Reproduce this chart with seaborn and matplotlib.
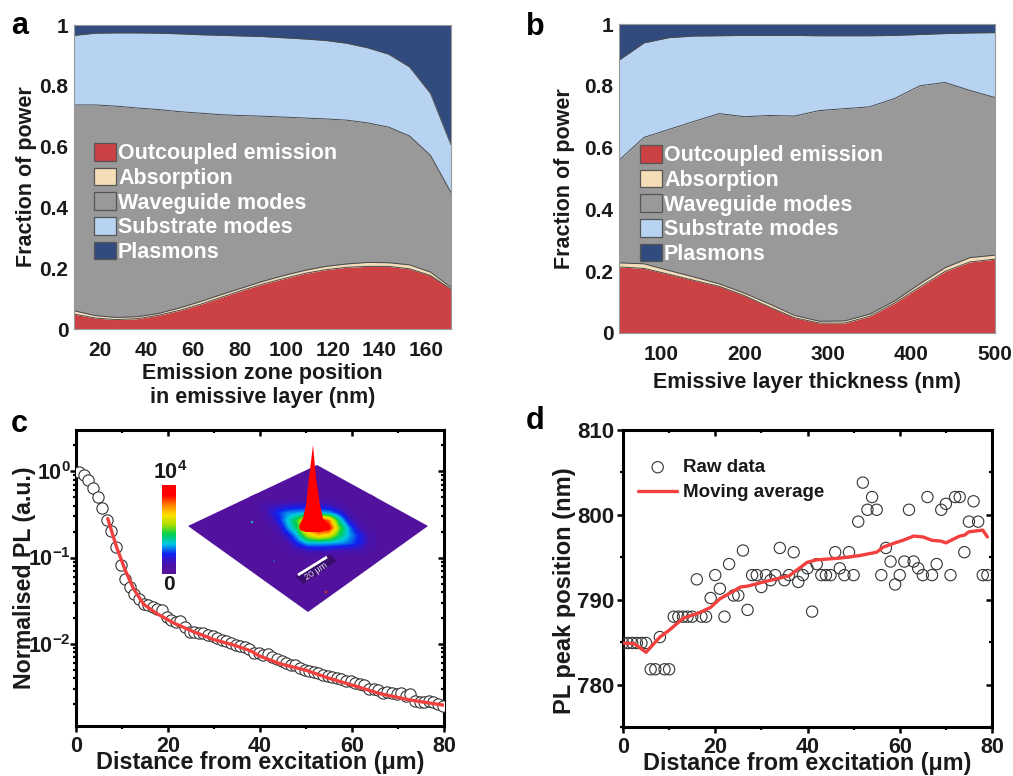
import numpy as np
import matplotlib
matplotlib.use("Agg")
import matplotlib.pyplot as plt
from matplotlib.colors import LinearSegmentedColormap
from matplotlib.patches import Patch, Polygon
from matplotlib.ticker import FixedLocator, NullFormatter
import seaborn as sns

W, H = 1013, 776

# panel a: top boundary of each stacked band
a_x = [8.8, 18, 27, 36, 45, 54, 63, 72, 81, 90, 99, 108, 117, 126, 135, 144, 153, 162, 170.8]
a_out = [.049, .036, .031, .034, .045, .061, .081, .104, .127, .148, .166, .183, .195, .203, .206, .206, .198, .176, .131]
a_abs = [.060, .044, .038, .0405, .051, .069, .090, .113, .135, .157, .176, .193, .206, .214, .219, .218, .211, .187, .137]
a_wg = [.737, .737, .733, .727, .722, .715, .710, .705, .702, .700, .697, .694, .691, .687, .678, .664, .635, .571, .449]
a_sub = [.966, .973, .974, .974, .973, .971, .968, .966, .964, .962, .958, .954, .949, .940, .925, .904, .862, .775, .606]

# panel b
b_x = [50, 80, 110, 140, 170, 200, 230, 260, 290, 320, 350, 380, 410, 440, 470, 500]
b_out = [.214, .209, .190, .170, .151, .121, .084, .0495, .032, .032, .054, .097, .149, .199, .230, .239]
b_abs = [.227, .224, .202, .181, .159, .129, .094, .057, .038, .039, .061, .104, .159, .211, .244, .252]
b_wg = [.559, .633, .659, .685, .710, .700, .704, .702, .720, .726, .732, .759, .800, .811, .785, .762]
b_sub = [.883, .939, .956, .961, .962, .963, .963, .963, .962, .962, .962, .963, .966, .969, .971, .972]

band_names = ["Outcoupled emission", "Absorption", "Waveguide modes", "Substrate modes", "Plasmons"]
band_colors = ["#CC4244", "#F4DDB7", "#999999", "#B8D3F2", "#324B7F"]

# panel c
c_x = [0.7, 1.7, 2.7, 3.7, 4.7, 5.7, 6.7, 7.7, 8.7, 9.7, 10.7, 11.7, 12.7, 13.7, 14.7, 15.7,
       16.7, 17.7, 18.7, 19.7, 20.7, 21.7, 22.7, 23.7, 24.7, 25.7, 26.7, 27.7, 28.7, 29.7,
       30.7, 31.7, 32.7, 33.7, 34.7, 35.7, 36.7, 37.7, 38.7, 39.7, 40.7, 41.7, 42.7, 43.7,
       44.7, 45.7, 46.7, 47.7, 48.7, 49.7, 50.7, 51.7, 52.7, 53.7, 54.7, 55.7, 56.7, 57.7,
       58.7, 59.7, 60.7, 61.7, 62.7, 63.7, 64.7, 65.7, 66.7, 67.7, 68.7, 69.7, 70.7, 71.7,
       72.7, 73.7, 74.7, 75.7, 76.7, 77.7, 78.7, 79.7]
c_raw = [.98, .90, .787, .647, .504, .376, .275, .202, .133, .083, .057, .0457, .0383, .0335, .0293, .028,
         .0268, .0257, .025, .0206, .0191, .018, .0185, .0157, .0138, .0138, .0135, .0133, .0128, .0122,
         .0118, .0112, .0107, .0103, .0098, .0094, .0091, .0087, .0079, .0078, .0075, .0076, .0070, .0067,
         .0064, .0060, .0057, .0057, .0053, .0050, .0049, .0047, .0046, .0044, .0042, .0041, .0040, .0039,
         .0037, .0037, .0035, .0034, .0033, .0030, .0030, .0029, .0027, .0028, .0027, .0026, .0027, .0025,
         .0026, .0022, .0021, .0021, .0022, .0021, .0020, .0019]
c_line_x = [6.9, 8.8, 10.7, 12.5, 14.7, 17.6, 21.2, 25.6, 30, 34.4, 38, 40, 44.3, 50, 55, 61.5, 66, 72.6, 80]
c_line_y = [.283, .133, .0713, .0437, .0288, .0224, .0175, .0138, .0112, .00966, .0083, .0072, .0059, .00495, .0040, .00316, .00266, .00224, .00195]

# panel d
d_x = list(range(80))
d_raw = [784.9, 784.9, 784.9, 784.9, 784.9, 784.9, 781.8, 781.8, 785.6, 781.8, 781.8, 788, 788, 788, 788, 788,
         792.4, 788, 788, 790.2, 792.9, 791.3, 788, 794.2, 790.5, 790.5, 795.8, 788.8, 792.9, 792.9,
         791.5, 792.9, 792.3, 792.9, 796.1, 792.3, 792.9, 795.6, 792.1, 792.9, 793.7, 788.6, 794.2, 792.9,
         792.9, 792.9, 795.6, 793.7, 792.9, 795.6, 792.9, 799.2, 803.8, 800.6, 802.1, 800.6, 792.9, 796.1,
         794.5, 791.8, 792.9, 794.5, 800.6, 794.5, 793.7, 792.9, 802.1, 792.9, 794.2, 800.6, 801.3, 792.9,
         802.1, 802.1, 795.6, 799.2, 801.6, 799.2, 792.9, 792.9]
d_line_x = [0, 2.5, 5, 8, 10, 13, 16.7, 19, 21, 25.5, 27, 32, 36, 39.9, 42, 47, 51.3, 55, 56.4, 59, 60.7,
            63, 65, 67, 69, 70, 73, 74, 75, 78, 79]
d_line_y = [784.9, 784.8, 783.8, 785.6, 786.4, 787.8, 788.5, 789.1, 790.1, 791.5, 791.6, 792.3, 792.8, 794.4,
            794.7, 794.9, 795.2, 795.6, 796.2, 796.7, 797, 797.5, 797.4, 797, 796.9, 796.7, 797.5, 797.6,
            798, 798.2, 797.4]

# inset: intensity around the spot
heat_levels = [
    [.03, .03, .03, .04, .05, .05, .05, .05, .04, .03, .03, .03],
    [.04, .12, .13, .16, .17, .17, .16, .15, .09, .04, .03, .03],
    [.03, .11, .22, .29, .31, .33, .33, .31, .22, .09, .04, .03],
    [.03, .07, .17, .33, .48, .75, .95, .80, .40, .17, .07, .03],
    [.03, .04, .09, .28, .44, .80, .95, .95, .52, .29, .12, .05],
    [.03, .03, .06, .17, .33, .58, .70, .63, .44, .31, .21, .09],
    [.03, .03, .04, .09, .23, .33, .33, .32, .30, .27, .20, .10],
    [.03, .03, .03, .06, .10, .14, .15, .14, .12, .12, .12, .06],
    [.03, .03, .03, .03, .04, .05, .05, .05, .04, .04, .04, .03],
]
rainbow_stops = ["#561299", "#4A12AC", "#1020F0", "#00C8E8", "#00D050", "#A8E000", "#FFE000", "#FF8000", "#FF0000", "#FF0000"]

sns.set_theme(style="ticks")
plt.rcParams["font.family"] = ["Liberation Sans", "DejaVu Sans"]
plt.rcParams["font.weight"] = "bold"
plt.rcParams["axes.labelweight"] = "bold"
plt.rcParams["mathtext.fontset"] = "custom"
plt.rcParams["mathtext.rm"] = "Liberation Sans:bold"
plt.rcParams["mathtext.bf"] = "Liberation Sans:bold"
plt.rcParams["mathtext.default"] = "rm"
plt.rcParams["text.color"] = "#1a1a1a"
plt.rcParams["xtick.color"] = "#1a1a1a"
plt.rcParams["ytick.color"] = "#1a1a1a"
plt.rcParams["axes.labelcolor"] = "#1a1a1a"

fig = plt.figure(figsize=(W / 100, H / 100), dpi=100)


def px_axes(left, top, right, bottom):
    return fig.add_axes([left / W, 1 - bottom / H, (right - left) / W, (bottom - top) / H])


def stacked(ax, x, tops, legend_xy):
    lower = [0] * len(x)
    for upper, color in zip(tops + [[1] * len(x)], band_colors):
        ax.fill_between(x, lower, upper, color=color, linewidth=0)
        lower = upper
    for upper in tops:
        sns.lineplot(x=x, y=upper, color="#4a4a4a", linewidth=0.7, errorbar=None, ax=ax)
    handles = [Patch(facecolor=c, edgecolor="#555555", linewidth=0.9, label=n) for c, n in zip(band_colors, band_names)]
    ax.legend(handles=handles, loc="upper left", bbox_to_anchor=legend_xy, bbox_transform=fig.transFigure,
              frameon=False, labelcolor="white", handlelength=1.0, handleheight=0.88,
              handletextpad=0.12, labelspacing=0.16, borderpad=0, borderaxespad=0,
              prop={"size": 15.5, "weight": "bold"})
    ax.set_ylim(0, 1)
    ax.set_yticks([0, .2, .4, .6, .8, 1], ["0", "0.2", "0.4", "0.6", "0.8", "1"])
    ax.tick_params(direction="in", length=3, width=0.8, color="#777777", labelsize=15)
    ax.tick_params(axis="y", pad=4)
    ax.tick_params(axis="x", pad=8.5)
    for s in ax.spines.values():
        s.set_color("#999999")
        s.set_linewidth(0.8)


# a
ax_a = px_axes(74, 25, 451, 329)
stacked(ax_a, a_x, [a_out, a_abs, a_wg, a_sub], (94 / W, 1 - 143 / H))
ax_a.set_xlim(8.8, 170.8)
ax_a.set_xticks(range(20, 161, 20))
ax_a.set_xlabel("Emission zone position\nin emissive layer (nm)", fontsize=15.5, labelpad=2, linespacing=1.23)
ax_a.set_ylabel("Fraction of power", fontsize=15.5, labelpad=2)

# b
ax_b = px_axes(619, 24, 995, 333)
stacked(ax_b, b_x, [b_out, b_abs, b_wg, b_sub], (640 / W, 1 - 145 / H))
ax_b.set_xlim(50, 500)
ax_b.set_xticks([100, 200, 300, 400, 500])
ax_b.set_xlabel("Emissive layer thickness (nm)", fontsize=15.5, labelpad=6)
ax_b.set_ylabel("Fraction of power", fontsize=15.5, labelpad=7)


def black_frame(ax):
    for s in ax.spines.values():
        s.set_color("black")
        s.set_linewidth(2.2)
    ax.tick_params(axis="both", which="major", direction="out", length=4, width=1.8, color="black", labelsize=15.5, pad=3)
    ax.tick_params(axis="both", which="minor", direction="out", length=2.5, width=1.6, color="black")


def mirror_ticks(ax, xmajor, xminor):
    top = ax.secondary_xaxis("top")
    top.set_xticks(xmajor)
    top.set_xticks(xminor, minor=True)
    top.tick_params(which="major", direction="in", length=4, width=1.8, color="black", labeltop=False)
    top.tick_params(which="minor", direction="in", length=2.5, width=1.6, color="black")
    top.xaxis.set_major_formatter(NullFormatter())
    top.spines["top"].set_visible(False)
    return top


# c
ax_c = px_axes(76, 430, 444, 726)
sns.scatterplot(x=c_x, y=c_raw, s=66, facecolor="white", edgecolor="#333333", linewidth=0.8, ax=ax_c, zorder=3)
sns.lineplot(x=c_line_x, y=c_line_y, color="#F2403F", linewidth=2.4, errorbar=None, ax=ax_c, zorder=4)
ax_c.set_yscale("log")
ax_c.set_xlim(0, 80)
ax_c.set_ylim(1.12e-3, 3)
ax_c.set_xticks([0, 20, 40, 60, 80])
ax_c.set_xticks([10, 30, 50, 70], minor=True)
c_major = [1, .1, .01]
c_minor = [m * 10.0 ** e for e in (-3, -2, -1, 0) for m in range(2, 10)]
c_minor = [v for v in c_minor if 1.12e-3 < v < 3]
ax_c.yaxis.set_major_locator(FixedLocator(c_major))
ax_c.yaxis.set_minor_locator(FixedLocator(c_minor))
ax_c.yaxis.set_minor_formatter(NullFormatter())
ax_c.set_yticks(c_major, ["$10^{0}$", "$10^{-1}$", "$10^{-2}$"])
black_frame(ax_c)
ax_c.tick_params(axis="y", which="major", pad=0)
ax_c.set_xlabel("Distance from excitation (μm)", fontsize=16.8, labelpad=-4)
ax_c.set_ylabel("Normalised PL (a.u.)", fontsize=16.7, labelpad=-6)
mirror_ticks(ax_c, [0, 20, 40, 60, 80], [10, 30, 50, 70])
right_c = ax_c.secondary_yaxis("right")
right_c.set_yscale("log")
right_c.yaxis.set_major_locator(FixedLocator(c_major))
right_c.yaxis.set_minor_locator(FixedLocator(c_minor))
right_c.yaxis.set_major_formatter(NullFormatter())
right_c.yaxis.set_minor_formatter(NullFormatter())
right_c.tick_params(which="major", direction="in", length=4, width=1.8, color="black")
right_c.tick_params(which="minor", direction="in", length=2.5, width=1.6, color="black")
right_c.spines["right"].set_visible(False)

# d
ax_d = px_axes(623, 430, 992, 727)
sns.scatterplot(x=d_x, y=d_raw, s=66, facecolor="none", edgecolor="#333333", linewidth=0.8, ax=ax_d,
                label="Raw data", zorder=3)
sns.lineplot(x=d_line_x, y=d_line_y, color="#F2403F", linewidth=2.4, errorbar=None, ax=ax_d,
             label="Moving average", zorder=4)
ax_d.set_xlim(0, 80)
ax_d.set_ylim(775, 810)
ax_d.set_xticks([0, 20, 40, 60, 80])
ax_d.set_xticks([10, 30, 50, 70], minor=True)
ax_d.set_yticks([780, 790, 800, 810])
ax_d.set_yticks([775, 785, 795, 805], minor=True)
black_frame(ax_d)
ax_d.tick_params(axis="y", which="major", labelsize=16, pad=2)
ax_d.set_xlabel("Distance from excitation (μm)", fontsize=16.8, labelpad=-4)
ax_d.set_ylabel("PL peak position (nm)", fontsize=17, labelpad=1, y=0.458)
mirror_ticks(ax_d, [0, 20, 40, 60, 80], [10, 30, 50, 70])
right_d = ax_d.secondary_yaxis("right")
right_d.set_yticks([780, 790, 800, 810])
right_d.set_yticks([775, 785, 795, 805], minor=True)
right_d.yaxis.set_major_formatter(NullFormatter())
right_d.tick_params(which="major", direction="in", length=4, width=1.8, color="black")
right_d.tick_params(which="minor", direction="in", length=2.5, width=1.6, color="black")
right_d.spines["right"].set_visible(False)
ax_d.legend(loc="upper left", bbox_to_anchor=(638 / W, 1 - 459 / H), bbox_transform=fig.transFigure,
            frameon=False, handlelength=2.1, handletextpad=0.3, labelspacing=0.42, borderpad=0, borderaxespad=0,
            prop={"size": 13.5, "weight": "bold"})

# overlay in image pixels for the inset and the panel letters
over = fig.add_axes([0, 0, 1, 1], facecolor="none")
over.set_xlim(0, W)
over.set_ylim(H, 0)
over.axis("off")

rainbow = LinearSegmentedColormap.from_list("pl_rainbow", rainbow_stops)
diamond_xy = [(188, 526), (317, 465), (428, 526), (308, 612)]
base_color = rainbow(0.03)
diamond = Polygon(diamond_xy, closed=True, facecolor=base_color, edgecolor="none", zorder=1)
over.add_patch(diamond)
spot = over.imshow(heat_levels, extent=(250, 376, 562, 494), cmap=rainbow, vmin=0, vmax=1,
                   interpolation="bilinear", interpolation_stage="data", aspect="auto", zorder=2)
spot.set_clip_path(diamond)
over.set_xlim(0, W)
over.set_ylim(H, 0)

spike_x = [313, 316, 320, 323, 328, 327, 320, 306, 300, 299, 303, 306, 309]
spike_y = [445, 478, 505, 518, 526, 530, 532, 532, 530, 526, 518, 505, 478]
over.fill(spike_x, spike_y, color="#FF0000", linewidth=0, zorder=3)

# scale bar on the map
over.fill([296, 330, 337, 303], [577, 554, 561, 584], color="#3A0C6E", linewidth=0, zorder=3)
over.plot([298, 327], [575, 557], color="white", linewidth=2, solid_capstyle="butt", zorder=4)
over.text(316, 571, "20 μm", color="#E8E0F0", fontsize=6.5, fontweight="normal", rotation=33, ha="center", va="center",
          rotation_mode="anchor", zorder=4)
over.scatter([252, 274, 326], [522, 561, 592], s=[3, 2, 4], c=["#20B0D0", "#2060D0", "#C03030"], linewidths=0, zorder=4)

# colour bar of the inset
cbar_levels = np.linspace(1, 0, 128).reshape(-1, 1)
over.imshow(cbar_levels, extent=(162, 176, 574.5, 486), cmap=rainbow, vmin=0, vmax=1, aspect="auto", zorder=2)
over.set_xlim(0, W)
over.set_ylim(H, 0)
over.text(170, 473, "$10^{4}$", fontsize=15.5, ha="center", va="center")
over.text(169, 585, "0", fontsize=15, ha="center", va="center")

# panel letters
for letter, lx, ly in [("a", 11, 26), ("b", 526, 27), ("c", 11, 424), ("d", 526, 421)]:
    over.text(lx, ly, letter, fontsize=22, ha="left", va="center", color="black")

fig.savefig("out.png", dpi=100)
